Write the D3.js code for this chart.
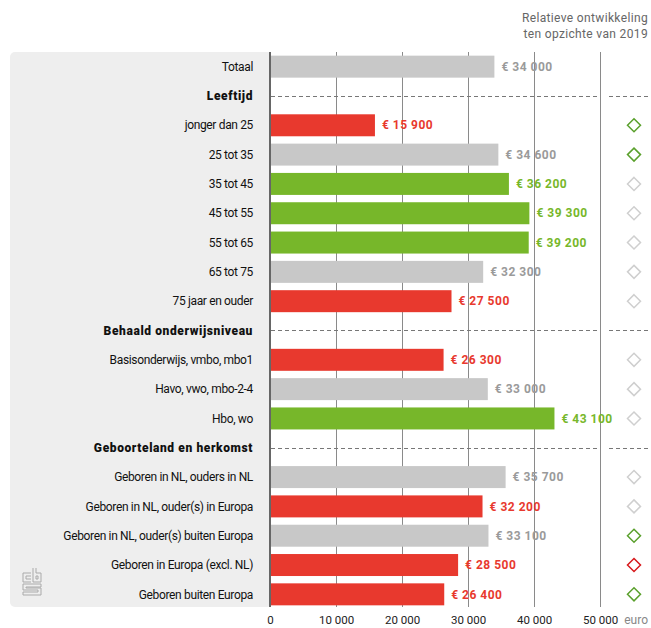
<!DOCTYPE html>
<html>
<head>
<meta charset="utf-8">
<script src="https://cdn.jsdelivr.net/npm/d3@7"></script>
<style>
  body { margin: 0; background: #fff; }
  text { font-family: Roboto, "Noto Sans", sans-serif; }
</style>
</head>
<body>
<script>
// rows of the chart, headers have no value
const labels = [
  "Totaal", "Leeftijd", "jonger dan 25", "25 tot 35", "35 tot 45", "45 tot 55",
  "55 tot 65", "65 tot 75", "75 jaar en ouder", "Behaald onderwijsniveau",
  "Basisonderwijs, vmbo, mbo1", "Havo, vwo, mbo-2-4", "Hbo, wo",
  "Geboorteland en herkomst", "Geboren in NL, ouders in NL",
  "Geboren in NL, ouder(s) in Europa", "Geboren in NL, ouder(s) buiten Europa",
  "Geboren in Europa (excl. NL)", "Geboren buiten Europa"
];
const values = [34000, null, 15900, 34600, 36200, 39300, 39200, 32300, 27500, null,
  26300, 33000, 43100, null, 35700, 32200, 33100, 28500, 26400];
const barClass = ["grey", null, "red", "grey", "green", "green", "green", "grey", "red", null,
  "red", "grey", "green", null, "grey", "red", "grey", "red", "red"];
const trend = [null, null, "green", "green", "grey", "grey", "grey", "grey", "grey", null,
  "grey", "grey", "grey", null, "grey", "grey", "green", "red", "green"];
const tickValues = [0, 10000, 20000, 30000, 40000, 50000];

const W = 651, H = 628;
const plotTop = 52, plotBottom = 607;

const barFill = { red: "#e8392e", grey: "#c8c8c8", green: "#77b72a" };
const labelFill = { red: "#e8392e", grey: "#9a9a9a", green: "#77b72a" };
const trendStroke = { red: "#d7191c", grey: "#cfcfcf", green: "#5aa02c" };

const svg = d3.select("body").append("svg")
  .attr("width", W)
  .attr("height", H);

const x = d3.scaleLinear().domain([0, 50000]).range([270, 600]);
const y = d3.scaleBand()
  .domain(d3.range(labels.length))
  .range([plotTop, 609])
  .paddingInner(0.25)
  .paddingOuter(0.125);

const fmt = v => d3.format(",")(v).replace(/,/g, " ");

// grey label panel
svg.append("rect")
  .attr("x", 10).attr("y", plotTop)
  .attr("width", 262).attr("height", plotBottom - plotTop)
  .attr("rx", 5)
  .attr("fill", "#eeeeee");
svg.append("rect")
  .attr("x", 270).attr("y", plotTop)
  .attr("width", W - 270).attr("height", plotBottom - plotTop)
  .attr("fill", "#fff");

// title text top right
const sub = svg.append("text")
  .attr("text-anchor", "end")
  .attr("fill", "#666")
  .style("font-size", "12px")
  .style("letter-spacing", "0.35px");
sub.append("tspan").attr("x", 648).attr("y", 22).text("Relatieve ontwikkeling");
sub.append("tspan").attr("x", 648).attr("y", 37.5).text("ten opzichte van 2019");

// gridlines
svg.selectAll(".grid")
  .data(tickValues.slice(1))
  .join("line")
  .attr("x1", d => x(d) + 0.5).attr("x2", d => x(d) + 0.5)
  .attr("y1", plotTop).attr("y2", plotBottom)
  .attr("stroke", "#8a8a8a")
  .attr("stroke-width", 1);

// dashed header lines
const rows = labels.map((l, i) => ({ label: l, value: values[i], cls: barClass[i], trend: trend[i], i }));
const headers = rows.filter(d => d.value === null);

headers.forEach(d => {
  const cy = Math.round(y(d.i) + y.bandwidth() / 2) + 0.5;
  svg.append("line")
    .attr("x1", 271).attr("x2", 597)
    .attr("y1", cy).attr("y2", cy)
    .attr("stroke", "#777").attr("stroke-dasharray", "4,3");
  svg.append("line")
    .attr("x1", 609).attr("x2", 648)
    .attr("y1", cy).attr("y2", cy)
    .attr("stroke", "#777").attr("stroke-dasharray", "4,3");
});

// bars
const data = rows.filter(d => d.value !== null);
svg.selectAll(".bar")
  .data(data)
  .join("rect")
  .attr("x", x(0))
  .attr("y", d => y(d.i))
  .attr("width", d => x(d.value) - x(0))
  .attr("height", y.bandwidth())
  .attr("fill", d => barFill[d.cls]);

// value labels
svg.selectAll(".val")
  .data(data)
  .join("text")
  .attr("x", d => x(d.value) + 7)
  .attr("y", d => y(d.i) + y.bandwidth() / 2)
  .attr("dy", "0.35em")
  .attr("fill", d => labelFill[d.cls])
  .style("font-size", "12px")
  .style("font-weight", "bold")
  .style("letter-spacing", "0.5px")
  .text(d => "\u20ac " + fmt(d.value));

// category labels
svg.selectAll(".cat")
  .data(rows)
  .join("text")
  .attr("x", 253)
  .attr("y", d => y(d.i) + y.bandwidth() / 2)
  .attr("dy", "0.35em")
  .attr("text-anchor", "end")
  .attr("fill", "#111")
  .style("font-size", "12px")
  .style("font-weight", d => d.value === null ? "900" : "normal")
  .style("letter-spacing", d => d.value === null ? "0.6px" : "-0.35px")
  .text(d => d.label);

// zero line
svg.append("line")
  .attr("x1", x(0)).attr("x2", x(0))
  .attr("y1", plotTop).attr("y2", plotBottom)
  .attr("stroke", "#666")
  .attr("stroke-width", 2);

// trend diamonds
svg.selectAll(".trend")
  .data(data.filter(d => d.trend))
  .join("path")
  .attr("d", d => {
    const cx = 634, cy = y(d.i) + y.bandwidth() / 2, r = 6.5;
    return `M${cx},${cy - r}L${cx + r},${cy}L${cx},${cy + r}L${cx - r},${cy}Z`;
  })
  .attr("fill", "none")
  .attr("stroke", d => trendStroke[d.trend])
  .attr("stroke-width", 1.5);

// x axis
const axis = svg.append("g")
  .attr("transform", `translate(0,${plotBottom + 6})`)
  .call(d3.axisBottom(x).tickValues(tickValues).tickSize(0).tickFormat(fmt));
axis.select(".domain").remove();
axis.selectAll("text")
  .style("font-family", "Roboto, sans-serif")
  .style("font-size", "11.5px")
  .attr("fill", "#222");

svg.append("text")
  .attr("x", 648).attr("y", 624)
  .attr("text-anchor", "end")
  .attr("fill", "#888")
  .style("font-size", "12px")
  .text("euro");

// cbs logo
const logo = svg.append("g")
  .attr("transform", "translate(22,568)")
  .attr("fill", "none")
  .attr("stroke", "#aaa")
  .attr("stroke-width", 1);
logo.append("path").attr("d", "M9,5H1V14H9M9,8H4V11H9");
logo.append("path").attr("d", "M11,0V14H19V5H14M14,0V5M14,8H16V11H14Z");
logo.append("path").attr("d", "M19,16H1V22H16V24H1V27H19V20H4V19H19Z");
</script>
</body>
</html>
